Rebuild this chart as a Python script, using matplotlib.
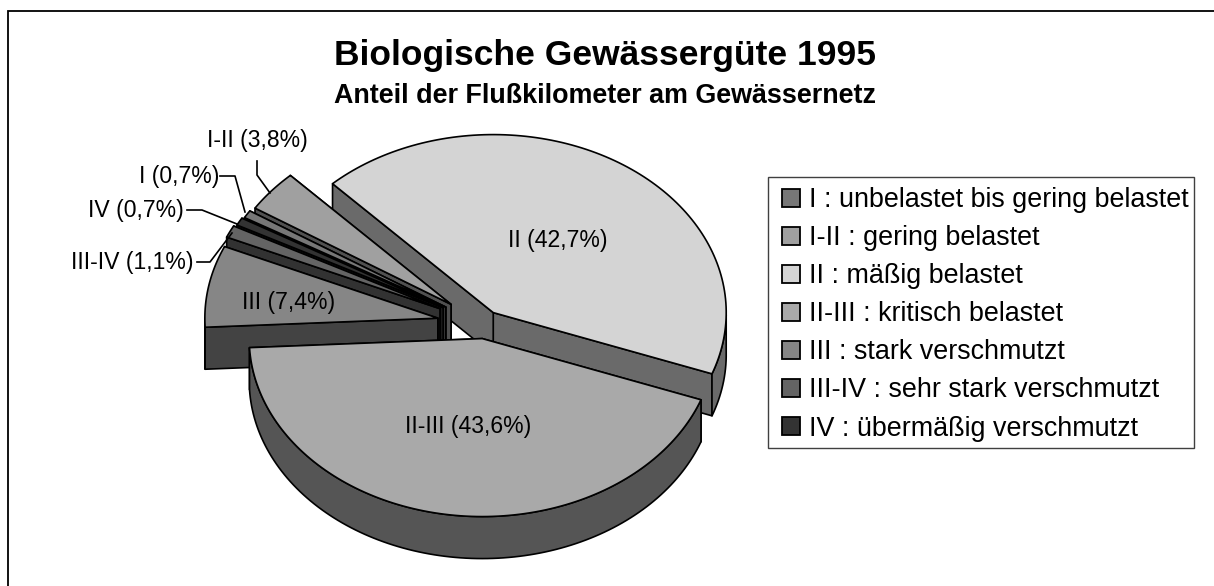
import numpy as np
import matplotlib
matplotlib.use("Agg")
import matplotlib.pyplot as plt
from matplotlib.patches import Polygon, Patch, Rectangle

plt.rcParams['font.family'] = ['Liberation Sans', 'DejaVu Sans']

# data
keys = ["I", "I-II", "II", "II-III", "III", "III-IV", "IV"]
values = [0.7, 3.8, 42.7, 43.6, 7.4, 1.1, 0.7]
legend_labels = ["I : unbelastet bis gering belastet", "I-II : gering belastet",
                 "II : mäßig belastet", "II-III : kritisch belastet",
                 "III : stark verschmutzt", "III-IV : sehr stark verschmutzt",
                 "IV : übermäßig verschmutzt"]
colors = ["#777777", "#a0a0a0", "#d4d4d4", "#a9a9a9", "#868686", "#646464", "#333333"]
explode = [0.187, 0.178, 0.08, 0.08, 0.197, 0.205, 0.195]
draw_order = ["II", "I-II", "I", "IV", "III-IV", "III", "II-III"]
title = "Biologische Gewässergüte 1995"
subtitle = "Anteil der Flußkilometer am Gewässernetz"

# pie geometry, in figure pixels
CX, CY, RX, RY, DEPTH = 483.0, 324.5, 233.0, 178.0, 42.0
START = 149.8
LW = 1.2
INK = "#000000"

fig = plt.figure(figsize=(12.14, 5.86), dpi=100)
ax = fig.add_axes([0, 0, 1, 1])
ax.set_xlim(0, 1214)
ax.set_ylim(586, 0)
ax.axis("off")

# the chart frame shows only on its top and left
ax.plot([1214, 8, 8], [10.5, 10.5, 586], color="black", lw=1.3, zorder=1, solid_joinstyle="miter")


def shade(c, f=0.5):
    r = matplotlib.colors.to_rgb(c)
    return tuple(v * f for v in r)


def slice_geom(i):
    cum = np.cumsum([0] + values)
    total = cum[-1]
    t0 = START - 360 * cum[i] / total
    t1 = START - 360 * cum[i + 1] / total
    mid = np.radians((t0 + t1) / 2)
    ax_ = CX + explode[i] * RX * np.cos(mid)
    ay_ = CY - explode[i] * RY * np.sin(mid)
    if keys[i] == "II-III":
        ax_ += 2
    return t0, t1, ax_, ay_


def rim_pts(t0, t1, ax_, ay_, n=120):
    t = np.radians(np.linspace(t0, t1, n))
    return t, np.c_[ax_ + RX * np.cos(t), ay_ - RY * np.sin(t)]


z = 2
for key in draw_order:
    i = keys.index(key)
    t0, t1, ax_, ay_ = slice_geom(i)
    t, pts = rim_pts(t0, t1, ax_, ay_)
    apex = np.array([ax_, ay_])
    side = shade(colors[i])
    down = np.array([0, DEPTH])
    # radial side walls
    for p in (pts[-1], pts[0]):
        quad = [apex, p, p + down, apex + down]
        ax.add_patch(Polygon(quad, closed=True, fc=side, ec=INK, lw=LW, joinstyle="round", zorder=z))
        z += 1
    # outer wall: only its front part is ever seen
    vis = pts[np.sin(t) <= 0]
    if len(vis) > 1:
        wall = np.vstack([vis, (vis + down)[::-1]])
        ax.add_patch(Polygon(wall, closed=True, fc=side, ec=INK, lw=LW, joinstyle="round", zorder=z))
        z += 1
    # top face
    ax.add_patch(Polygon(np.vstack([apex, pts]), closed=True, fc=colors[i], ec=INK,
                         lw=LW, joinstyle="round", zorder=z))
    z += 1

# slice labels
lab_fs = 16.6
z_txt = z + 5
ax.text(558, 240, "II (42,7%)", ha="center", va="center", fontsize=lab_fs, zorder=z_txt)
ax.text(468, 426, "II-III (43,6%)", ha="center", va="center", fontsize=lab_fs, zorder=z_txt)
ax.text(289, 303, "III (7,4%)", ha="center", va="center", fontsize=lab_fs, zorder=z_txt)
ax.text(257.5, 141, "I-II (3,8%)", ha="center", va="center", fontsize=lab_fs, zorder=z_txt)
ax.text(179, 177, "I (0,7%)", ha="center", va="center", fontsize=lab_fs, zorder=z_txt)
ax.text(135.5, 210, "IV (0,7%)", ha="center", va="center", fontsize=lab_fs, zorder=z_txt)
ax.text(132.5, 263, "III-IV (1,1%)", ha="center", va="center", fontsize=lab_fs, zorder=z_txt)

# leader lines
leaders = [([257, 257, 270], [161, 175, 193]),
           ([220, 235, 245], [176, 176, 212]),
           ([187, 202, 237], [210, 210, 224]),
           ([197, 210, 232], [262, 262, 233])]
for xs, ys in leaders:
    ax.plot(xs, ys, color="black", lw=LW, zorder=z_txt)

# titles
ax.text(605, 65, title, ha="center", va="baseline", fontsize=25.5, fontweight="bold")
ax.text(605, 103, subtitle, ha="center", va="baseline", fontsize=19.4, fontweight="bold")

# legend
ax.add_patch(Rectangle((768, 177), 426, 271, fc="white", ec="#404040", lw=1.0, zorder=z_txt))
handles = [Patch(fc=c, ec="black", lw=1.3) for c in colors]
leg = ax.legend(handles, legend_labels, loc="upper left",
                bbox_to_anchor=(782 / 1214, 1 - 187 / 586), borderaxespad=0,
                fontsize=19.35, frameon=False,
                handlelength=0.66, handleheight=0.66,
                handletextpad=0.33, labelspacing=0.45, borderpad=0)
leg.set_zorder(z_txt + 1)

fig.savefig("out.png", dpi=100)
